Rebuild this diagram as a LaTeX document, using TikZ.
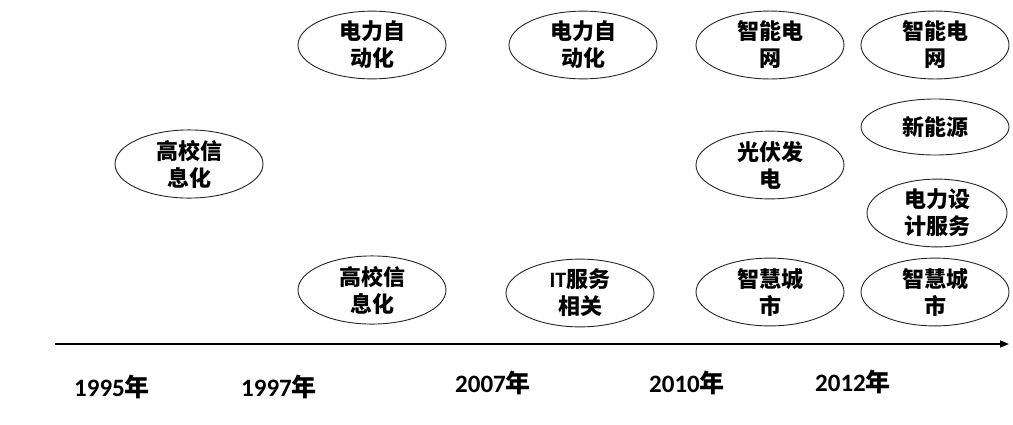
\documentclass[tikz,border=0pt]{standalone}
\usepackage{fontspec}
\setmainfont{Carlito}
\newfontfamily\cjk{Noto Sans CJK SC}
\usetikzlibrary{shapes.geometric,arrows.meta}
\tikzset{
  bub/.style={ellipse, draw=black!85, line width=0.9pt, minimum width=148pt, minimum height=66pt, inner sep=0pt, align=center,
    font=\cjk\bfseries\fontsize{22}{27}\selectfont},
  yr/.style={font=\bfseries\fontsize{25}{28}\selectfont, inner sep=0pt},
}
\begin{document}
\begin{tikzpicture}[x=1pt,y=1pt]
\useasboundingbox (0,0) rectangle (1013,-424);
\node[bub] (a1) at (189,-164) {高校信\\息化};
\node[bub] (b1) at (372,-45) {电力自\\动化};
\node[bub] (b2) at (372,-290) {高校信\\息化};
\node[bub] (c1) at (583,-45) {电力自\\动化};
\node[bub] (c2) at (580,-293) {{\fontspec{Carlito}\bfseries IT}服务\\相关};
\node[bub] (d1) at (770,-45) {智能电\\网};
\node[bub] (d2) at (770,-165) {光伏发\\电};
\node[bub] (d3) at (770,-292) {智慧城\\市};
\node[bub] (e1) at (935,-45) {智能电\\网};
\node[bub, minimum height=56pt] (e2) at (935,-127) {新能源};
\node[bub, minimum width=140pt, minimum height=58pt] (e3) at (937,-213) {电力设\\计服务};
\node[bub] (e4) at (935,-292) {智慧城\\市};
\coordinate (ax0) at (55,-344);
\coordinate (ax1) at (1009,-344);
\draw[line width=1.6pt, -{Triangle[length=9pt,width=7pt]}] (ax0) -- (ax1);
\node[yr] (y1) at (112,-387) {1995{\cjk 年}};
\node[yr] (y2) at (279,-387) {1997{\cjk 年}};
\node[yr] (y3) at (493,-383) {2007{\cjk 年}};
\node[yr] (y4) at (687,-383) {2010{\cjk 年}};
\node[yr] (y5) at (853,-382) {2012{\cjk 年}};
\end{tikzpicture}
\end{document}
